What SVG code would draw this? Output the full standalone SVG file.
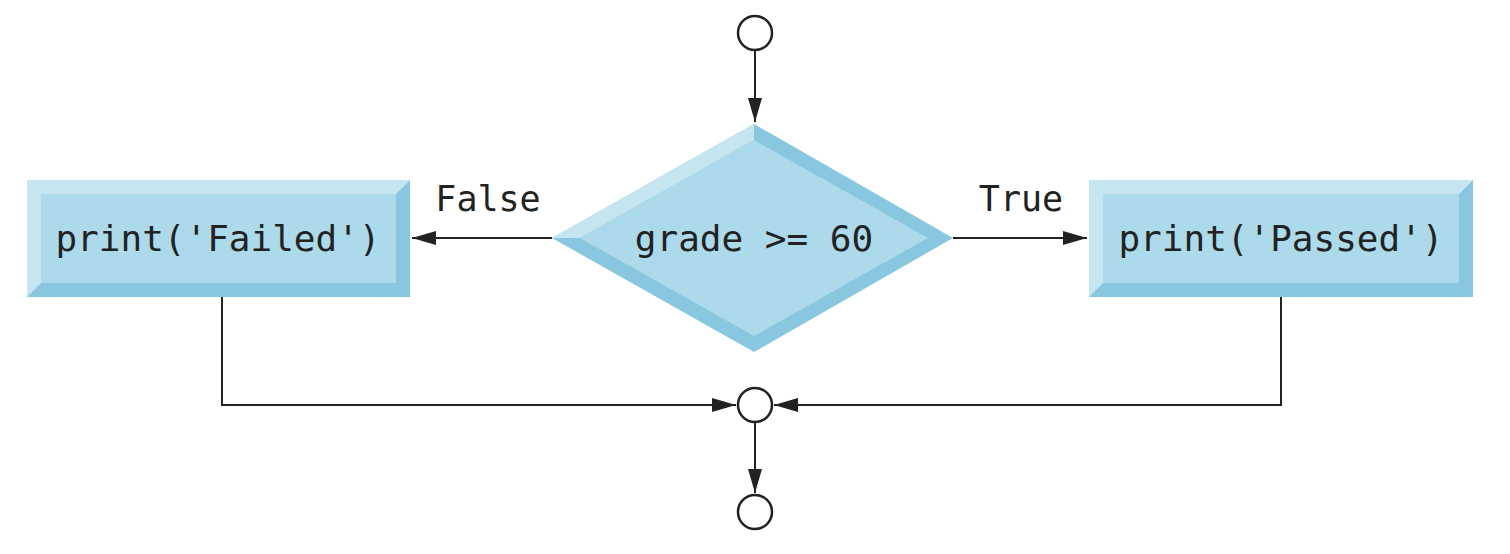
<svg xmlns="http://www.w3.org/2000/svg" width="1510" height="554" viewBox="0 0 1510 554">
<style>
.t{font-family:"DejaVu Sans Mono","Liberation Mono",monospace;font-size:36px;fill:#222}
.c{fill:#fff;stroke:#222;stroke-width:2.5}
.l{fill:none;stroke:#222;stroke-width:2}
.lt{fill:#c5e6f1}.dk{fill:#88c7df}.md{fill:#acdaeb}
</style>
<defs><marker id="a" markerWidth="12" markerHeight="10" refX="12" refY="5" orient="auto" markerUnits="userSpaceOnUse"><path d="M0,0L22,5L0,10z" transform="scale(0.55,1)" fill="#222"/></marker>
<marker id="b" markerWidth="24" markerHeight="14" refX="24" refY="7" orient="auto" markerUnits="userSpaceOnUse"><path d="M0,0L24,7L0,14z" fill="#222"/></marker></defs>
<g id="connectors">
<path class="l" d="M755,50V122" marker-end="url(#b)"/>
<path class="l" d="M552,238H412" marker-end="url(#b)"/>
<path class="l" d="M953,238H1087" marker-end="url(#b)"/>
<path class="l" d="M222,297V405H736" marker-end="url(#b)"/>
<path class="l" d="M1281,297V405H774" marker-end="url(#b)"/>
<path class="l" d="M755,422V493" marker-end="url(#b)"/>
</g>
<g id="start"><circle class="c" cx="755" cy="33" r="17"/></g>
<g id="merge"><circle class="c" cx="755" cy="405" r="17"/></g>
<g id="end"><circle class="c" cx="755" cy="512" r="17"/></g>
<g id="decision">
<polygon class="dk" points="754,124 953,238 754,352 552,238"/>
<polygon class="lt" points="754,124 754,140 580,238 552,238"/>
<polygon class="md" points="754,140 928,238 754,336 580,238"/>
<text class="t" x="754" y="251" text-anchor="middle">grade &gt;= 60</text>
</g>
<g id="failed">
<rect class="dk" x="27" y="180" width="383" height="117"/>
<polygon class="lt" points="27,180 410,180 396,194 41,194 41,283 27,297"/>
<rect class="md" x="41" y="194" width="355" height="89"/>
<text class="t" x="218" y="251" text-anchor="middle">print('Failed')</text>
</g>
<g id="passed">
<rect class="dk" x="1089" y="180" width="384" height="117"/>
<polygon class="lt" points="1089,180 1473,180 1459,194 1103,194 1103,283 1089,297"/>
<rect class="md" x="1103" y="194" width="356" height="89"/>
<text class="t" x="1281" y="251" text-anchor="middle">print('Passed')</text>
</g>
<text class="t" x="488" y="211" text-anchor="middle" style="font-size:35px">False</text>
<text class="t" x="1021" y="211" text-anchor="middle" style="font-size:35px">True</text>
</svg>
